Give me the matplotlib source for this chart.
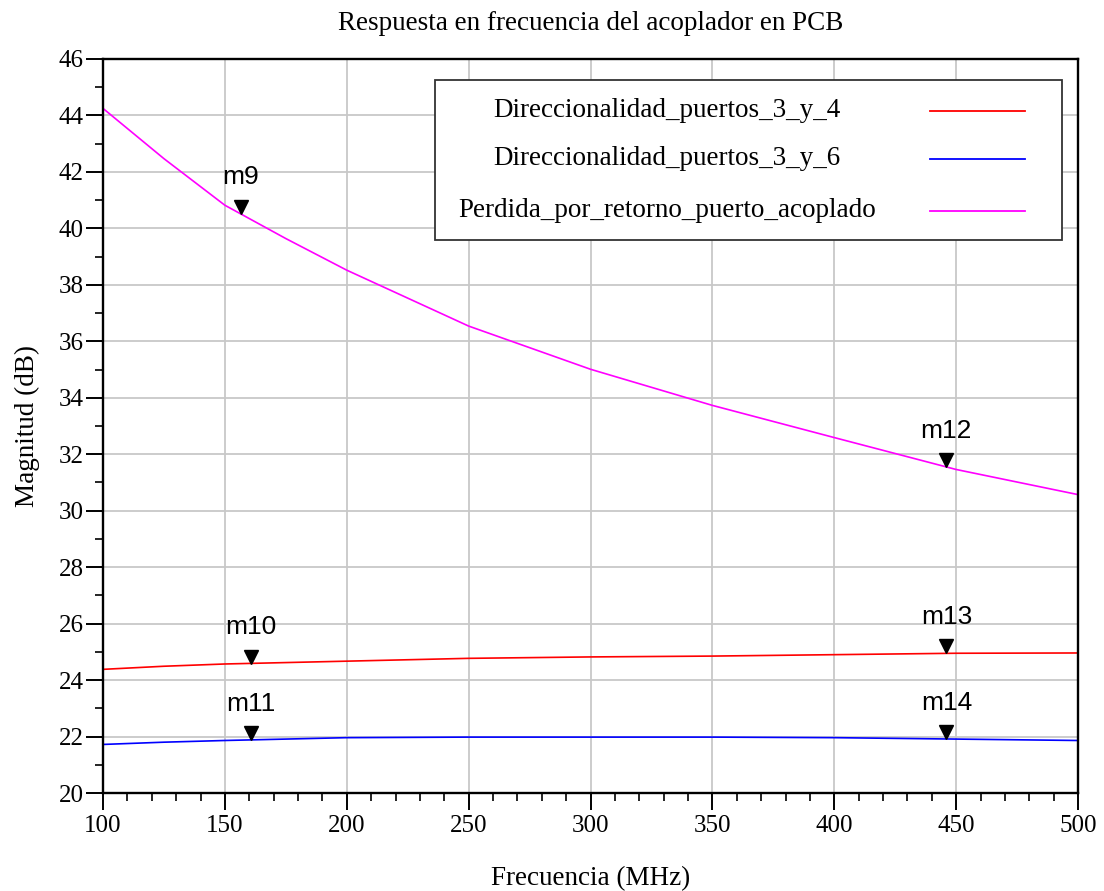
import numpy as np
import matplotlib
matplotlib.use("Agg")
import matplotlib.pyplot as plt
from matplotlib.transforms import ScaledTranslation
from matplotlib.lines import Line2D
from matplotlib.patches import Rectangle

# Datos (frecuencia en MHz, magnitud en dB)
freq = [100, 125, 150, 175, 200, 250, 300, 350, 400, 450, 500]
dir_34 = [24.38, 24.49, 24.57, 24.62, 24.67, 24.77, 24.82, 24.85, 24.90, 24.95, 24.96]
dir_36 = [21.72, 21.80, 21.86, 21.91, 21.96, 21.98, 21.98, 21.98, 21.96, 21.91, 21.86]
perdida = [44.25, 42.47, 40.82, 39.64, 38.52, 36.54, 35.01, 33.73, 32.59, 31.46, 30.57]

labels = ["Direccionalidad_puertos_3_y_4",
          "Direccionalidad_puertos_3_y_6",
          "Perdida_por_retorno_puerto_acoplado"]
colors = ["#ff0000", "#0000ff", "#ff00ff"]

# Marcadores: nombre, frecuencia, valor
mk_names = ["m9", "m10", "m11", "m12", "m13", "m14"]
mk_freq = [156.5, 160.7, 160.7, 446, 446, 446]
mk_val = [40.52, 24.58, 21.87, 31.55, 24.95, 21.91]

serif = "Liberation Serif"
sans = "Liberation Sans"

fig = plt.figure(figsize=(11.04, 8.91), dpi=100)
ax = fig.add_axes([103 / 1104, 1 - 793 / 891, 975 / 1104, 734 / 891])

for y, c in zip([dir_34, dir_36, perdida], colors):
    ax.plot(freq, y, color=c, lw=1.2)

# marcadores triangulares con la punta sobre la curva
off = ax.transData + ScaledTranslation(0, 7 / 100, fig.dpi_scale_trans)
ax.plot(mk_freq, mk_val, linestyle="none", marker="v", color="black",
        markersize=10, transform=off, zorder=5)
for name, f, v in zip(mk_names, mk_freq, mk_val):
    ax.annotate(name, (f, v), xytext=(0, 17.5), textcoords="offset points",
                ha="center", va="bottom", fontsize=19, family=sans)

ax.set_xlim(100, 500)
ax.set_ylim(20, 46)
ax.set_xticks(np.arange(100, 501, 50))
ax.set_yticks(np.arange(20, 47, 2))
ax.set_xticks(np.arange(100, 501, 10), minor=True)
ax.set_yticks(np.arange(20, 47, 1), minor=True)
ax.grid(True, which="major", color="#c8c8c8", lw=1.3)
ax.set_axisbelow(True)

ax.tick_params(which="major", direction="out", length=12, width=1.4,
               labelsize=18, top=False, right=False)
ax.tick_params(which="minor", direction="out", length=5.5, width=1.2,
               top=False, right=False)
ax.tick_params(axis="y", pad=2)
ax.tick_params(axis="x", pad=4)
for lab in ax.get_xticklabels() + ax.get_yticklabels():
    lab.set_family(serif)
for s in ax.spines.values():
    s.set_linewidth(1.7)

ax.set_title("Respuesta en frecuencia del acoplador en PCB", family=serif,
             fontsize=19.5, pad=21)
ax.set_xlabel("Frecuencia (MHz)", family=serif, fontsize=19.5, labelpad=21)
ax.set_ylabel("Magnitud (dB)", family=serif, fontsize=19.5, labelpad=13)

# leyenda dibujada a mano (texto centrado, linea a la derecha)
x0, x1 = (435 - 103) / 975, (1062 - 103) / 975
y0, y1 = (793 - 240) / 734, (793 - 80) / 734
ax.add_patch(Rectangle((x0, y0), x1 - x0, y1 - y0, transform=ax.transAxes,
                       facecolor="white", edgecolor="#333333", lw=1.3, zorder=6))
rows_px = [111, 159, 211]
for lab, c, ypx in zip(labels, colors, rows_px):
    yy = (793 - ypx) / 734
    ax.text((667 - 103) / 975, yy, lab, transform=ax.transAxes, ha="center",
            va="center", fontsize=19.5, family=serif, zorder=7)
    ax.add_line(Line2D([(930 - 103) / 975, (1025 - 103) / 975], [yy, yy],
                       transform=ax.transAxes, color=c, lw=1.3, zorder=7))

fig.savefig("out.png", dpi=100)
